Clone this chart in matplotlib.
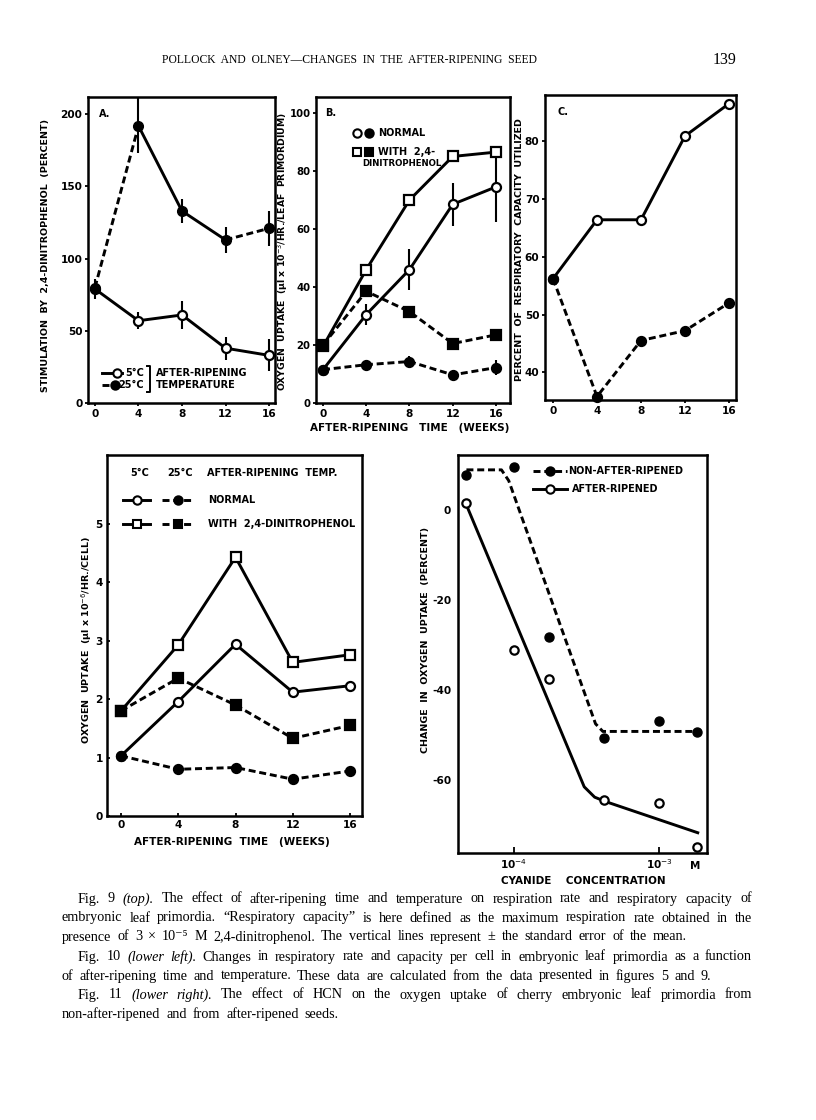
import numpy as np
import matplotlib.pyplot as plt
from matplotlib.lines import Line2D

plt.rcParams['axes.unicode_minus'] = False
plt.rcParams['font.family'] = ['DejaVu Sans']

# ---- data ----
weeks = [0, 4, 8, 12, 16]

# Fig 9A: stimulation by 2,4-dinitrophenol (percent)
stim_5c = [79, 57, 61, 38, 33]
stim_5c_err = [7, 6, 10, 8, 11]
stim_25c = [80, 192, 133, 113, 121]
stim_25c_err = [0, 19, 8, 9, 12]
stim_25c_styles = ['dash', 'solid', 'solid', 'dash']

# Fig 9B: oxygen uptake (ul x 10^-3 / hr / leaf primordium)
b_normal_5c = [11.5, 30.5, 46, 68.5, 74.5]
b_normal_5c_err = [0, 3.5, 7, 7.5, 12]
b_dnp_5c = [19.5, 46, 70, 85, 86.5]
b_normal_25c = [11.5, 13.2, 14.3, 9.7, 12.2]
b_normal_25c_err = [0, 1.5, 2, 0, 2.5]
b_dnp_25c = [20, 38.5, 31.5, 20.5, 23.5]

# Fig 9C: percent of respiratory capacity utilized
c_5c = [56.2, 66.4, 66.4, 80.9, 86.5]
c_25c = [56.2, 35.8, 45.5, 47.2, 52]

# Fig 10: oxygen uptake per cell (ul x 10^-6 / hr / cell)
f10_normal_5c = [1.03, 1.96, 2.94, 2.12, 2.23]
f10_dnp_5c = [1.80, 2.93, 4.43, 2.63, 2.76]
f10_normal_25c = [1.03, 0.80, 0.83, 0.63, 0.77]
f10_dnp_25c = [1.80, 2.36, 1.90, 1.33, 1.55]

# Fig 11: change in oxygen uptake vs cyanide concentration (M)
cn_conc = [4.7e-5, 1.0e-4, 1.75e-4, 4.2e-4, 1.0e-3, 1.82e-3]
cn_non_ripened = [7.8, 9.6, -28.3, -50.6, -46.9, -49.4]
cn_ripened = [1.5, -31.1, -37.6, -64.4, -65.0, -74.8]
# hand-drawn curves through the points
curve_non_x = [4.7e-5, 8.2e-5, 9.2e-5, 3.65e-4, 4.1e-4, 1.82e-3]
curve_non_y = [8.9, 8.9, 6.5, -47.5, -49.2, -49.2]
curve_rip_x = [4.7e-5, 3.05e-4, 3.6e-4, 4.3e-4, 1.85e-3]
curve_rip_y = [1.1, -61.5, -63.8, -64.8, -71.7]

# ---- figure ----
W, H = 816, 1120
fig = plt.figure(figsize=(W / 100, H / 100), dpi=100)
fig.patch.set_facecolor('white')

LW = 2.1
DASH = (0, (2.4, 1.3))
LS = {'solid': '-', 'dash': DASH}
BOLD = dict(fontweight='bold', color='k')


def px(x, y):
    return x / W, 1 - y / H


def box(l, t, r, b):
    ax = fig.add_axes([l / W, 1 - b / H, (r - l) / W, (b - t) / H])
    for s in ax.spines.values():
        s.set_linewidth(1.8)
    ax.tick_params(direction='out', length=2.5, width=1.3, pad=1.5, labelsize=7.6)
    return ax


def series(ax, x, y, marker, filled, ls, ms=6.5, err=None):
    ax.plot(x, y, color='k', lw=LW, ls=LS[ls], zorder=2)
    if err is not None:
        ax.errorbar(x, y, yerr=err, fmt='none', ecolor='k', elinewidth=1.5, capsize=0, zorder=2)
    ax.plot(x, y, ls='none', marker=marker, ms=ms, mfc='k' if filled else 'white',
            mec='k', mew=1.6, zorder=3, clip_on=False)


def key(x0, x1, y, marker, filled, ls, mx=None, ms=6):
    xa, ya = px(x0, y)
    xb, _ = px(x1, y)
    if ls is not None:
        fig.add_artist(Line2D([xa, xb], [ya, ya], transform=fig.transFigure,
                              color='k', lw=LW, ls=LS[ls]))
    xm = (xa + xb) / 2 if mx is None else px(mx, 0)[0]
    fig.add_artist(Line2D([xm], [ya], transform=fig.transFigure, ls='none',
                          marker=marker, ms=ms, mfc='k' if filled else 'white',
                          mec='k', mew=1.5))


def ftext(x, y, s, size=7, **kw):
    return fig.text(*px(x, y), s, fontsize=size, va='center', **kw)


def ylab(x, y, s, size=6.8):
    return fig.text(*px(x, y), s, fontsize=size, rotation=90, ha='center', va='center', **BOLD)


def bold_ticks(ax):
    for lab in ax.get_xticklabels() + ax.get_yticklabels():
        lab.set_fontweight('bold')


# ---- Fig 9A ----
axA = box(88, 97, 275, 403)
series(axA, weeks, stim_5c, 'o', False, 'solid', err=stim_5c_err)
for i, st in enumerate(stim_25c_styles):
    axA.plot(weeks[i:i + 2], stim_25c[i:i + 2], color='k', lw=LW, ls=LS[st], zorder=2)
axA.errorbar(weeks, stim_25c, yerr=stim_25c_err, fmt='none', ecolor='k', elinewidth=1.5, capsize=0)
axA.plot(weeks, stim_25c, ls='none', marker='o', ms=7, mfc='k', mec='k', zorder=3)
axA.set_xlim(-0.64, 16.55)
axA.set_ylim(0, 212)
axA.set_xticks(weeks)
axA.set_yticks([0, 50, 100, 150, 200])
bold_ticks(axA)
ylab(46, 255, 'STIMULATION  BY  2,4-DINITROPHENOL  (PERCENT)')
ftext(99, 114, 'A.', 7, **BOLD)
key(102, 122, 373, 'o', False, 'solid', mx=117)
key(102, 122, 385, 'o', True, 'dash', mx=115)
ftext(144, 373, '5°C', 7, ha='right', **BOLD)
ftext(144, 385, '25°C', 7, ha='right', **BOLD)
fig.add_artist(Line2D([px(147, 0)[0], px(150, 0)[0], px(150, 0)[0], px(147, 0)[0]],
                      [px(0, 366)[1], px(0, 366)[1], px(0, 392)[1], px(0, 392)[1]],
                      transform=fig.transFigure, color='k', lw=1.4))
ftext(156, 373, 'AFTER-RIPENING', 7, **BOLD)
ftext(156, 385, 'TEMPERATURE', 7, **BOLD)

# ---- Fig 9B ----
axB = box(316, 97, 510, 403)
series(axB, weeks, b_dnp_5c, 's', False, 'solid')
series(axB, weeks, b_normal_5c, 'o', False, 'solid', err=b_normal_5c_err)
series(axB, weeks, b_dnp_25c, 's', True, 'dash')
series(axB, weeks, b_normal_25c, 'o', True, 'dash', err=b_normal_25c_err)
axB.set_xlim(-0.65, 17.3)
axB.set_ylim(0, 105.5)
axB.set_xticks(weeks)
axB.set_yticks([0, 20, 40, 60, 80, 100])
axB.tick_params(axis='y', labelsize=7.3)
bold_ticks(axB)
ylab(283, 252, 'OXYGEN  UPTAKE  (µl x 10$^{-3}$/HR./LEAF  PRIMORDIUM)', 6.7)
ftext(325, 113, 'B.', 7, **BOLD)
key(357, 357, 133, 'o', False, None)
key(369, 369, 133, 'o', True, None)
ftext(378, 133, 'NORMAL', 7, **BOLD)
key(357, 357, 152, 's', False, None)
key(369, 369, 152, 's', True, None)
ftext(378, 152, 'WITH  2,4-', 7, **BOLD)
ftext(362, 164, 'DINITROPHENOL', 6.2, **BOLD)

# ---- Fig 9C ----
axC = box(545, 95, 736, 400)
series(axC, weeks, c_5c, 'o', False, 'solid')
series(axC, weeks, c_25c, 'o', True, 'dash')
axC.set_xlim(-0.73, 16.64)
axC.set_ylim(35.2, 88)
axC.set_xticks(weeks)
axC.set_yticks([40, 50, 60, 70, 80])
bold_ticks(axC)
ylab(519, 250, 'PERCENT  OF  RESPIRATORY  CAPACITY  UTILIZED')
ftext(557, 112, 'C.', 7, **BOLD)

ftext(410, 428, 'AFTER-RIPENING   TIME   (WEEKS)', 7.5, ha='center', **BOLD)

# ---- Fig 10 ----
ax10 = box(107, 455, 362, 816)
series(ax10, weeks, f10_dnp_5c, 's', False, 'solid')
series(ax10, weeks, f10_normal_5c, 'o', False, 'solid')
series(ax10, weeks, f10_dnp_25c, 's', True, 'dash')
series(ax10, weeks, f10_normal_25c, 'o', True, 'dash')
ax10.set_xlim(-0.98, 16.84)
ax10.set_ylim(0, 6.18)
ax10.set_xticks(weeks)
ax10.set_yticks([0, 1, 2, 3, 4, 5])
ax10.tick_params(direction='in', length=2, pad=3)
bold_ticks(ax10)
ylab(87, 640, 'OXYGEN  UPTAKE  (µl x 10$^{-6}$/HR./CELL)')
ftext(232, 842, 'AFTER-RIPENING  TIME   (WEEKS)', 7.5, ha='center', **BOLD)
ftext(130, 473, '5°C', 7, **BOLD)
ftext(167, 473, '25°C', 7, **BOLD)
ftext(207, 473, 'AFTER-RIPENING  TEMP.', 7, **BOLD)
key(123, 150, 500, 'o', False, 'solid')
key(162, 193, 500, 'o', True, 'dash')
ftext(208, 500, 'NORMAL', 7, **BOLD)
key(123, 150, 524, 's', False, 'solid')
key(162, 193, 524, 's', True, 'dash')
ftext(208, 524, 'WITH  2,4-DINITROPHENOL', 7, **BOLD)

# ---- Fig 11 ----
ax11 = box(458, 455, 707, 853)
ax11.set_xscale('log')
ax11.plot(curve_non_x, curve_non_y, color='k', lw=LW, ls=DASH)
ax11.plot(curve_rip_x, curve_rip_y, color='k', lw=LW, ls='-')
ax11.plot(cn_conc, cn_non_ripened, ls='none', marker='o', ms=6.5, mfc='k', mec='k', zorder=3)
ax11.plot(cn_conc, cn_ripened, ls='none', marker='o', ms=6, mfc='white', mec='k', mew=1.6, zorder=3)
ax11.set_xlim(10 ** -4.386, 10 ** -2.669)
ax11.set_ylim(-76.2, 12.2)
ax11.set_xticks([1e-4, 1e-3])
ax11.set_xticklabels(['10$^{-4}$', '10$^{-3}$'])
ax11.minorticks_off()
ax11.set_yticks([0, -20, -40, -60])
ax11.tick_params(axis='x', direction='in', length=4, pad=3)
ax11.tick_params(axis='y', length=0, pad=5)
bold_ticks(ax11)
ylab(425, 640, 'CHANGE  IN  OXYGEN  UPTAKE  (PERCENT)')
ftext(690, 866, 'M', 7.5, **BOLD)
ftext(583, 881, 'CYANIDE    CONCENTRATION', 7.5, ha='center', **BOLD)
key(533, 567, 471, 'o', True, 'dash')
ftext(568, 471, 'NON-AFTER-RIPENED', 7, **BOLD)
key(533, 567, 489, 'o', False, 'solid')
ftext(572, 489, 'AFTER-RIPENED', 7, **BOLD)

# ---- running head ----
SERIF = ['Liberation Serif', 'DejaVu Serif']
ftext(162, 60, 'POLLOCK  AND  OLNEY—CHANGES  IN  THE  AFTER-RIPENING  SEED', 8.4, family=SERIF)
ftext(737, 60, '139', 11.5, family=SERIF, ha='right')

# ---- captions (justified word by word) ----
caption = [
    (78, 752, 899, True, 'Fig. 9 |(top). The effect of after-ripening time and temperature on respiration rate and respiratory capacity of'),
    (62, 752, 918, True, 'embryonic leaf primordia. “Respiratory capacity” is here defined as the maximum respiration rate obtained in the'),
    (62, 752, 937, False, 'presence of 3 × 10⁻⁵ M 2,4-dinitrophenol. The vertical lines represent ± the standard error of the mean.'),
    (78, 752, 957, True, 'Fig. 10 |(lower |left). Changes in respiratory rate and capacity per cell in embryonic leaf primordia as a function'),
    (62, 752, 976, False, 'of after-ripening time and temperature. These data are calculated from the data presented in figures 5 and 9.'),
    (78, 752, 995, True, 'Fig. 11 |(lower |right). The effect of HCN on the oxygen uptake of cherry embryonic leaf primordia from'),
    (62, 752, 1014, False, 'non-after-ripened and from after-ripened seeds.'),
]
renderer = fig.canvas.get_renderer()
for x0, x1, y, just, line in caption:
    words = line.split(' ')
    texts = []
    for w in words:
        italic = w.startswith('|')
        t = fig.text(0, 0, w.lstrip('|'), fontsize=10.2, family=SERIF, va='center',
                     style='italic' if italic else 'normal')
        texts.append(t)
    widths = [t.get_window_extent(renderer).width for t in texts]
    gap = (x1 - x0 - sum(widths)) / (len(texts) - 1) if just else 6.0
    x = x0
    for t, wd in zip(texts, widths):
        t.set_position(px(x, y))
        x += wd + gap

fig.savefig('out.png', dpi=100)
